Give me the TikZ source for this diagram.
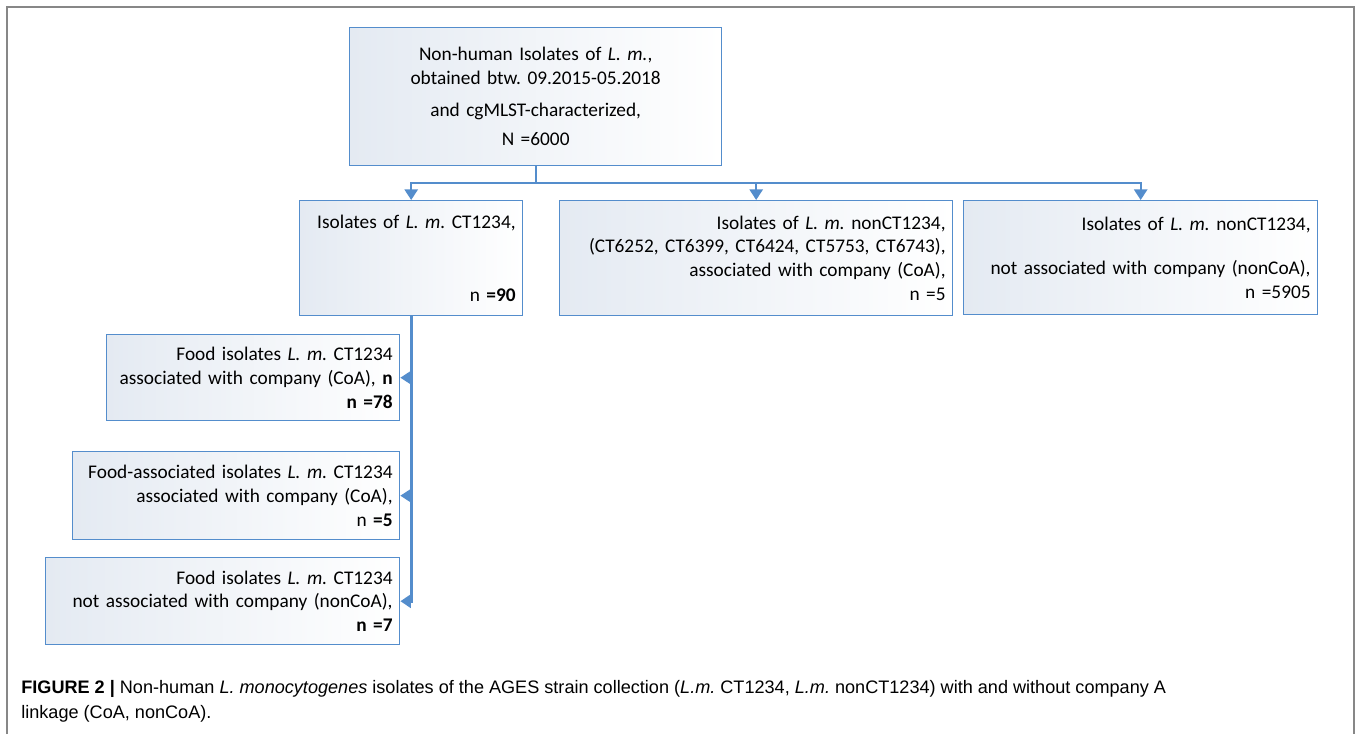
\documentclass[tikz,border=0pt]{standalone}
\usepackage{fontspec}
\setmainfont{Carlito}
\newfontfamily\capfont{Liberation Sans}
\usetikzlibrary{arrows.meta}
\frenchspacing

\definecolor{boxblue}{RGB}{84,141,204}
\definecolor{boxfill}{RGB}{228,234,242}
\definecolor{framegray}{RGB}{135,135,135}

\tikzset{
  box/.style={draw=boxblue, line width=0.8pt, left color=boxfill, right color=white,
    anchor=north west, align=right, inner xsep=0.14cm, inner ysep=0pt,
    font=\fontsize{11}{13.5}\selectfont},
  link/.style={draw=boxblue, line width=1.1pt},
  arr/.style={link, -{Triangle[width=7.5pt,length=6pt]}},
}

\begin{document}
\begin{tikzpicture}[x=0.02cm,y=-0.02cm,line join=miter]

\useasboundingbox (0,0) rectangle (1358,734);

% frame
\draw[framegray, line width=1.1pt] (7,734) -- (7,7) -- (1354,7) -- (1354,734);

% top box
\node[box, align=center, text width=7.16cm, minimum width=7.44cm, minimum height=2.76cm] (top) at (349,27)
  {Non-human Isolates of \textit{L. m.},\\ obtained btw. 09.2015-05.2018\\[5pt]
   and cgMLST-characterized,\\[3pt] N =6000};

% second row
\node[box, text width=4.18cm, minimum width=4.46cm, minimum height=2.3cm] (ct) at (299,200)
  {Isolates of \textit{L. m.} CT1234,\\[28pt] n \textbf{=90}};
\node[box, text width=7.58cm, minimum width=7.86cm, minimum height=2.3cm] (mid) at (559,200)
  {Isolates of \textit{L. m.} nonCT1234,\\ (CT6252, CT6399, CT6424, CT5753, CT6743),\\
   associated with company (CoA),\\ n =5};
\node[box, text width=6.8cm, minimum width=7.08cm, minimum height=2.28cm] (rest) at (963,200)
  {Isolates of \textit{L. m.} nonCT1234,\\[12pt] not associated with company (nonCoA),\\ n =5905};

% food boxes
\node[box, text width=5.58cm, minimum width=5.86cm, minimum height=1.72cm] (food1) at (106,334)
  {Food isolates \textit{L. m.} CT1234\\ associated with company (CoA), \textbf{n}\\ \textbf{n =78}};
\node[box, text width=6.26cm, minimum width=6.54cm, minimum height=1.76cm] (food2) at (72,451)
  {Food-associated isolates \textit{L. m.} CT1234\\ associated with company (CoA),\\ n \textbf{=5}};
\node[box, text width=6.8cm, minimum width=7.08cm, minimum height=1.74cm] (food3) at (45,557)
  {Food isolates \textit{L. m.} CT1234\\ not associated with company (nonCoA),\\ \textbf{n =7}};

% connectors
\draw[link] (top.south) -- ++(0,17) coordinate (split);
\draw[arr] (split) -| (ct.north);
\draw[arr] (split) -| (mid.north);
\draw[arr] (split) -| (rest.north);

\draw[arr, line width=1.5pt] (ct.south) |- (food3.east);
\draw[arr] (ct.south |- food1.east) -- (food1.east);
\draw[arr] (ct.south |- food2.east) -- (food2.east);

% caption
\node[anchor=north west, align=left, inner sep=0pt, font=\capfont\fontsize{10.3}{14}\selectfont] (caption) at (21,680)
  {\textbf{FIGURE 2 |} Non-human \textit{L. monocytogenes} isolates of the AGES strain collection
   (\textit{L.m.} CT1234, \textit{L.m.} nonCT1234) with and without company A\\ linkage (CoA, nonCoA).};

\end{tikzpicture}
\end{document}
